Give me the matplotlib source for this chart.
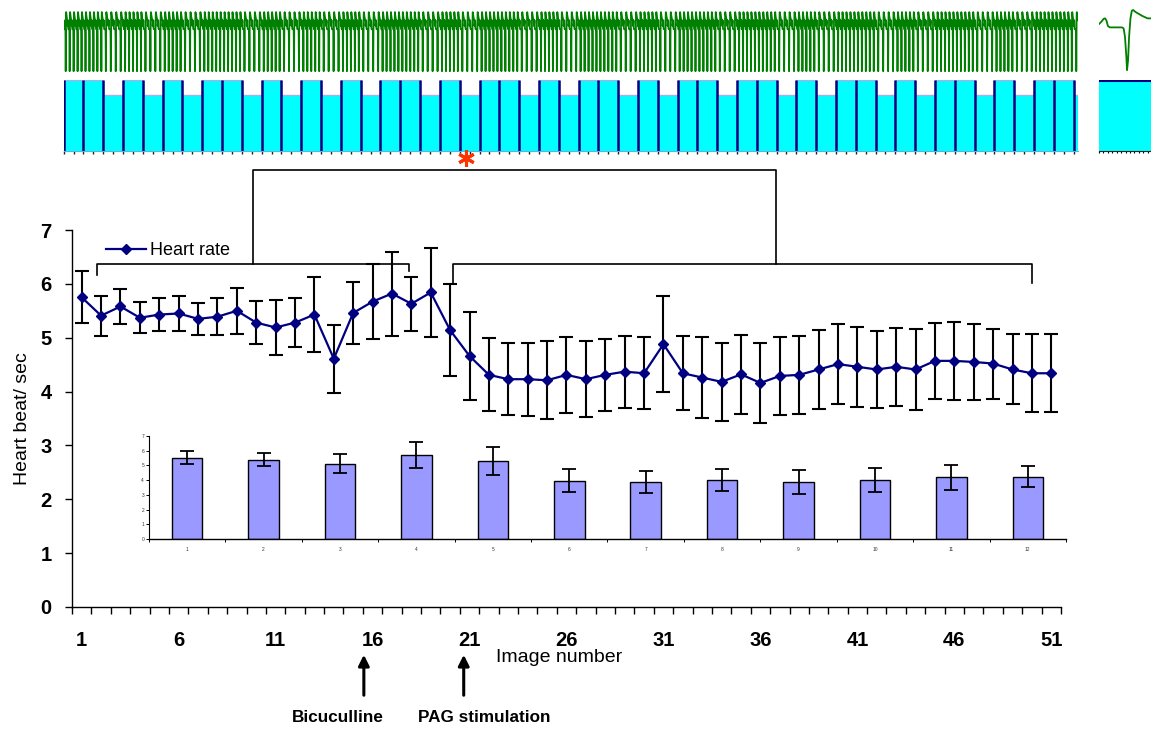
import matplotlib
matplotlib.use('Agg')
import matplotlib.pyplot as plt
import numpy as np

plt.rcParams['font.family'] = ['Liberation Sans', 'DejaVu Sans']

# ---------------- data ----------------
image_number = list(range(1, 52))
heart_rate = [5.75, 5.41, 5.58, 5.37, 5.43, 5.45, 5.35, 5.39, 5.50, 5.28,
              5.19, 5.28, 5.43, 4.61, 5.46, 5.67, 5.82, 5.63, 5.84, 5.14,
              4.66, 4.31, 4.23, 4.23, 4.21, 4.31, 4.23, 4.31, 4.37, 4.34,
              4.88, 4.34, 4.26, 4.18, 4.32, 4.16, 4.29, 4.31, 4.41, 4.51,
              4.46, 4.41, 4.46, 4.41, 4.57, 4.57, 4.55, 4.52, 4.41, 4.34, 4.34]
heart_rate_err = [0.48, 0.37, 0.33, 0.29, 0.30, 0.33, 0.30, 0.34, 0.43, 0.40,
                  0.51, 0.46, 0.70, 0.63, 0.57, 0.70, 0.78, 0.50, 0.83, 0.85,
                  0.81, 0.68, 0.67, 0.68, 0.72, 0.70, 0.70, 0.67, 0.67, 0.67,
                  0.89, 0.69, 0.75, 0.73, 0.73, 0.75, 0.73, 0.72, 0.74, 0.75,
                  0.74, 0.72, 0.72, 0.75, 0.70, 0.72, 0.70, 0.65, 0.65, 0.72, 0.72]
x_tick_labels = ['1', '6', '11', '16', '21', '26', '31', '36', '41', '46', '51']

inset_groups = list(range(1, 13))
inset_mean = [5.53, 5.40, 5.12, 5.71, 5.33, 3.97, 3.88, 4.00, 3.88, 4.02, 4.18, 4.22]
inset_err = [0.44, 0.46, 0.64, 0.91, 0.95, 0.77, 0.75, 0.76, 0.79, 0.82, 0.86, 0.71]

# beats counted in each recorded frame (top cyan bars)
frame_beats = [5, 5, 4, 5, 4, 5, 4, 5, 5, 4, 5, 4, 5, 4, 5, 4, 5, 5, 4, 5,
               4, 5, 5, 4, 5, 4, 5, 5, 4, 5, 4, 5, 5, 4, 5, 5, 4, 5, 4, 5,
               5, 4, 5, 4, 5, 5, 4, 5, 4, 5, 5, 4]

# single averaged ECG beat (right inset)
beat_time = [0, 7, 14, 18, 22, 26, 32, 67, 72, 76, 80, 82, 85, 88, 92, 96,
             100, 107, 117, 127, 142, 155]
beat_volt = [0.078, 0.133, 0.203, 0.211, 0.156, 0.031, 0.0, 0.0, -0.023,
             -0.219, -0.688, -1.0, -0.766, -0.219, 0.211, 0.39, 0.406, 0.359,
             0.3125, 0.266, 0.211, 0.211]

W, H = 1151, 730
fig = plt.figure(figsize=(W / 100, H / 100), dpi=100)


def fx(px):
    return px / W


def fy(py):
    return (H - py) / H


navy = '#000080'

# ---------------- top ECG trace ----------------
ax_tr = fig.add_axes([fx(63.6), fy(72), fx(1078) - fx(63.6), fy(4) - fy(72)])
bt = np.array(beat_time) / beat_time[-1]
bv = np.array(beat_volt)
xs, ys = [], []
for i, n in enumerate(frame_beats):
    start = i + 0.5
    for k in range(n):
        xs.append(start + (k + bt) / n)
        ys.append(bv)
ax_tr.plot(np.concatenate(xs), np.concatenate(ys), color='#008000', lw=1.3)
ax_tr.set_xlim(0.5, 51.72)
ax_tr.set_ylim(-1.02, 0.6)
ax_tr.axis('off')

# ---------------- cyan frame bars ----------------
ax_fb = fig.add_axes([fx(63.6), fy(151), fx(1078) - fx(63.6), fy(80) - fy(151)])
frames = np.arange(1, len(frame_beats) + 1)
ax_fb.bar(frames, frame_beats, width=1.0, color='#00FFFF', edgecolor='#a8b0e8',
          linewidth=1.0)
left_h = np.array(frame_beats[:-1])
right_h = np.array(frame_beats[1:])
ax_fb.vlines(frames[:-1] + 0.5, 0, np.maximum(left_h, right_h), color=navy, lw=1.8)
ax_fb.vlines([0.5], 0, frame_beats[0], color=navy, lw=1.8)
ax_fb.set_xlim(0.5, 51.72)
ax_fb.set_ylim(0, 5.03)
for s in ['top', 'left', 'right']:
    ax_fb.spines[s].set_visible(False)
ax_fb.spines['bottom'].set_color('#40c0e0')
ax_fb.set_yticks([])
ax_fb.set_xticks(np.arange(0.5, 52, 0.5))
ax_fb.tick_params(axis='x', length=2, width=1, color='#202020', labelbottom=False)

# ---------------- right averaged beat ----------------
ax_wv = fig.add_axes([fx(1099), fy(71), fx(1152) - fx(1099), fy(9) - fy(71)])
ax_wv.plot(beat_time, beat_volt, color='#008000', lw=1.3)
ax_wv.set_xlim(0, 155)
ax_wv.set_ylim(-1.02, 0.43)
ax_wv.axis('off')

ax_sq = fig.add_axes([fx(1099), fy(151), fx(1152) - fx(1099), fy(80) - fy(151)])
ax_sq.bar([0], [1], width=1.0, color='#00FFFF', edgecolor='none')
ax_sq.axhline(1, color=navy, lw=1.5)
ax_sq.set_xlim(-0.5, 0.5)
ax_sq.set_ylim(0, 1.01)
for s in ['top', 'left', 'right']:
    ax_sq.spines[s].set_visible(False)
ax_sq.spines['bottom'].set_color('#202020')
ax_sq.set_yticks([])
ax_sq.set_xticks(np.linspace(-0.5, 0.5, 13))
ax_sq.tick_params(axis='x', length=1.5, width=0.8, labelbottom=False)

# ---------------- main chart ----------------
ax = fig.add_axes([fx(72), fy(607), fx(1061) - fx(72), fy(230) - fy(607)])
ax.errorbar(image_number, heart_rate, yerr=heart_rate_err, fmt='none',
            ecolor='black', elinewidth=1.5, capsize=5, capthick=1.5, zorder=2)
ax.plot(image_number, heart_rate, color=navy, lw=1.6, marker='D', ms=5.5,
        label='Heart rate', zorder=3)
ax.set_xlim(0.5, 51.5)
ax.set_ylim(0, 7)
for s in ['top', 'right']:
    ax.spines[s].set_visible(False)
ax.spines['left'].set_linewidth(1.0)
ax.spines['bottom'].set_linewidth(1.0)
ax.set_yticks(range(0, 8))
ax.tick_params(axis='y', direction='out', length=5, width=1, pad=9.5,
               labelsize=14.5)
ax.set_xticks([int(t) for t in x_tick_labels])
ax.set_xticklabels(x_tick_labels)
ax.set_xticks(np.arange(0.5, 52, 1), minor=True)
ax.tick_params(axis='x', which='major', length=0, pad=17, labelsize=14.5)
ax.tick_params(axis='x', which='minor', direction='out', length=5, width=1)
for lab in ax.get_xticklabels() + ax.get_yticklabels():
    lab.set_fontweight('bold')
ax.set_ylabel('Heart beat/ sec', fontsize=14, labelpad=12)
ax.yaxis.set_label_coords(-0.041, 0.5)
ax.text(0.493, -0.134, 'Image number', transform=ax.transAxes, fontsize=14,
        ha='center', va='center')

leg = ax.legend(loc='upper left', bbox_to_anchor=(fx(106), fy(242)),
                bbox_transform=fig.transFigure, frameon=False, fontsize=13,
                handlelength=2.2, handletextpad=0.25, borderpad=0,
                borderaxespad=0)

# significance brackets
bk = dict(color='black', lw=1.2, clip_on=False, zorder=4)
yb = 6.375
ax.plot([1.79, 1.79, 17.87, 17.87], [6.17, yb, yb, 6.24], **bk)
ax.plot([20.14, 20.14, 50.0, 50.0], [6.02, yb, yb, 6.02], **bk)
ax.plot([9.83, 9.83, 36.8, 36.8], [yb, 8.12, 8.12, yb], **bk)
ax.plot([20.8], [8.33], marker=(6, 2, 0), ms=12, mew=2.2, color='#ff3300',
        clip_on=False, zorder=5)

# arrows and treatment labels
for xd in [15.55, 20.7]:
    ax.annotate('', xy=(xd, H - 652), xytext=(xd, H - 698),
                xycoords=('data', 'figure pixels'),
                textcoords=('data', 'figure pixels'),
                arrowprops=dict(arrowstyle='-|>', lw=2.2, color='black',
                                mutation_scale=16))
fig.text(fx(338), fy(717), 'Bicuculline', ha='center', va='center',
         fontsize=12.3, fontweight='bold')
fig.text(fx(484), fy(717), 'PAG stimulation', ha='center', va='center',
         fontsize=12.3, fontweight='bold')

# ---------------- inset bar chart ----------------
axi = fig.add_axes([fx(149), fy(539), fx(1066) - fx(149), fy(436) - fy(539)])
axi.patch.set_alpha(0)
axi.bar(inset_groups, inset_mean, width=0.4, color='#9999FF', edgecolor='black',
        linewidth=1.0, zorder=2)
axi.errorbar(inset_groups, inset_mean, yerr=inset_err, fmt='none', ecolor='black',
             elinewidth=1.3, capsize=5, capthick=1.3, zorder=3)
axi.set_xlim(0.5, 12.5)
axi.set_ylim(0, 7)
for s in ['top', 'right']:
    axi.spines[s].set_visible(False)
axi.spines['left'].set_linewidth(0.8)
axi.spines['bottom'].set_linewidth(1.0)
axi.set_yticks(range(0, 8))
axi.tick_params(axis='y', length=2, width=0.7, labelsize=3.5, pad=1.5,
                labelcolor='#333333')
axi.set_xticks(inset_groups)
axi.set_xticklabels([str(g) for g in inset_groups])
axi.set_xticks(np.arange(0.5, 13, 1), minor=True)
axi.tick_params(axis='x', which='major', length=0, labelsize=3.5, pad=6,
                labelcolor='#333333')
axi.tick_params(axis='x', which='minor', length=2, width=0.7)

fig.savefig('out.png', dpi=100)
